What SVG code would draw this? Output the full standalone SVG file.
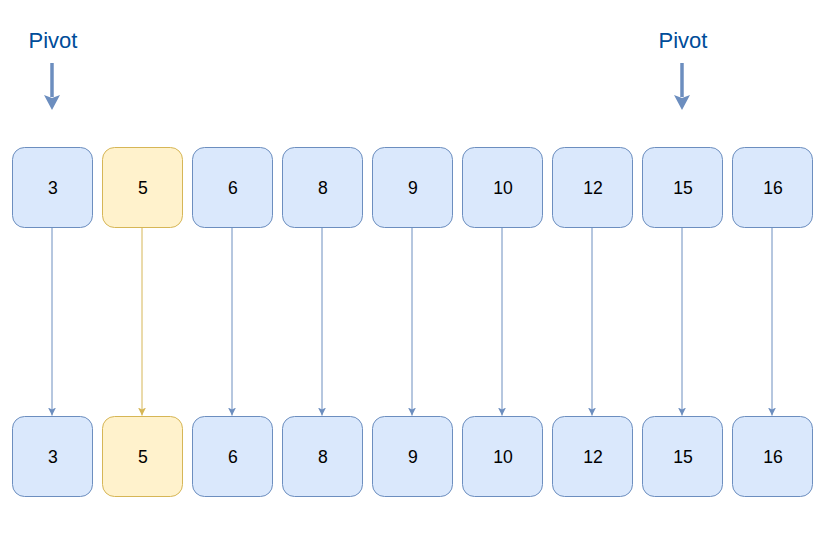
<svg xmlns="http://www.w3.org/2000/svg" width="836" height="541" viewBox="0 0 836 541">
<defs>
<style>
.b rect{fill:#dae8fc;stroke:#6c8ebf;stroke-width:1}
.y rect{fill:#fff2cc;stroke:#d6b656;stroke-width:1}
text{font-family:"Liberation Sans",Arial,sans-serif;font-size:17.6px;fill:#000;text-anchor:middle}
.pv{font-size:22px;fill:#004c99}
.cb{stroke:#6c8ebf;stroke-width:1;fill:none;marker-end:url(#ab)}
.cy{stroke:#d6b656;stroke-width:1;fill:none;marker-end:url(#ay)}
.pa{stroke:#6c8ebf;stroke-width:3.5;fill:none}
</style>
<marker id="ab" viewBox="0 0 8 8" refX="8" refY="4" markerWidth="8" markerHeight="8" markerUnits="userSpaceOnUse" orient="auto"><path d="M0,0 L8,4 L0,8 L2,4 Z" fill="#6c8ebf"/></marker>
<marker id="ay" viewBox="0 0 8 8" refX="8" refY="4" markerWidth="8" markerHeight="8" markerUnits="userSpaceOnUse" orient="auto"><path d="M0,0 L8,4 L0,8 L2,4 Z" fill="#d6b656"/></marker>
</defs>
<rect width="836" height="541" fill="#fff"/>
<g id="pivot1"><text class="pv" x="53" y="48">Pivot</text><path class="pa" d="M52,63 V97"/><path d="M44,95 L52,110 L60,95 L52,98 Z" fill="#6c8ebf"/></g>
<g id="pivot2"><text class="pv" x="683" y="48">Pivot</text><path class="pa" d="M682,63 V97"/><path d="M674,95 L682,110 L690,95 L682,98 Z" fill="#6c8ebf"/></g>
<g id="connectors">
<path class="cb" d="M52,227.5 V415.5"/>
<path class="cy" d="M142,227.5 V415.5"/>
<path class="cb" d="M232,227.5 V415.5"/>
<path class="cb" d="M322,227.5 V415.5"/>
<path class="cb" d="M412,227.5 V415.5"/>
<path class="cb" d="M502,227.5 V415.5"/>
<path class="cb" d="M592,227.5 V415.5"/>
<path class="cb" d="M682,227.5 V415.5"/>
<path class="cb" d="M772,227.5 V415.5"/>
</g>
<g id="t3" class="b"><rect x="12.5" y="147.5" width="80" height="80" rx="12"/><text x="53" y="194">3</text></g>
<g id="t5" class="y"><rect x="102.5" y="147.5" width="80" height="80" rx="12"/><text x="143" y="194">5</text></g>
<g id="t6" class="b"><rect x="192.5" y="147.5" width="80" height="80" rx="12"/><text x="233" y="194">6</text></g>
<g id="t8" class="b"><rect x="282.5" y="147.5" width="80" height="80" rx="12"/><text x="323" y="194">8</text></g>
<g id="t9" class="b"><rect x="372.5" y="147.5" width="80" height="80" rx="12"/><text x="413" y="194">9</text></g>
<g id="t10" class="b"><rect x="462.5" y="147.5" width="80" height="80" rx="12"/><text x="503" y="194">10</text></g>
<g id="t12" class="b"><rect x="552.5" y="147.5" width="80" height="80" rx="12"/><text x="593" y="194">12</text></g>
<g id="t15" class="b"><rect x="642.5" y="147.5" width="80" height="80" rx="12"/><text x="683" y="194">15</text></g>
<g id="t16" class="b"><rect x="732.5" y="147.5" width="80" height="80" rx="12"/><text x="773" y="194">16</text></g>
<g id="b3" class="b"><rect x="12.5" y="416.5" width="80" height="80" rx="12"/><text x="53" y="463">3</text></g>
<g id="b5" class="y"><rect x="102.5" y="416.5" width="80" height="80" rx="12"/><text x="143" y="463">5</text></g>
<g id="b6" class="b"><rect x="192.5" y="416.5" width="80" height="80" rx="12"/><text x="233" y="463">6</text></g>
<g id="b8" class="b"><rect x="282.5" y="416.5" width="80" height="80" rx="12"/><text x="323" y="463">8</text></g>
<g id="b9" class="b"><rect x="372.5" y="416.5" width="80" height="80" rx="12"/><text x="413" y="463">9</text></g>
<g id="b10" class="b"><rect x="462.5" y="416.5" width="80" height="80" rx="12"/><text x="503" y="463">10</text></g>
<g id="b12" class="b"><rect x="552.5" y="416.5" width="80" height="80" rx="12"/><text x="593" y="463">12</text></g>
<g id="b15" class="b"><rect x="642.5" y="416.5" width="80" height="80" rx="12"/><text x="683" y="463">15</text></g>
<g id="b16" class="b"><rect x="732.5" y="416.5" width="80" height="80" rx="12"/><text x="773" y="463">16</text></g>
</svg>
